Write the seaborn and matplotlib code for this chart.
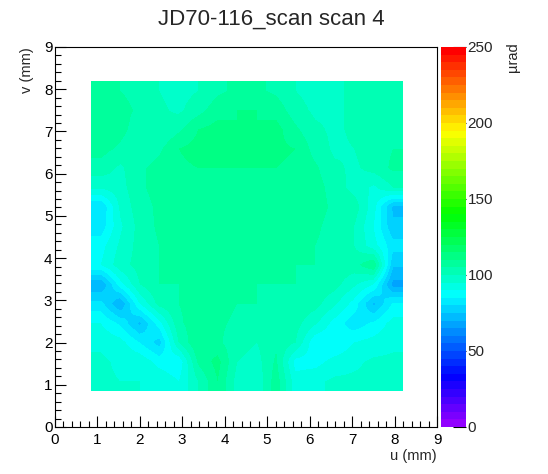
import numpy as np
import matplotlib
matplotlib.use("Agg")
import matplotlib.pyplot as plt
from matplotlib.colors import ListedColormap, Normalize, hsv_to_rgb
from matplotlib.ticker import MultipleLocator
import seaborn as sns

title = "JD70-116_scan scan 4"
u_label = "u (mm)"
v_label = "v (mm)"
z_label = "µrad"

# scanned area (mm) and colour scale range (µrad)
u_range = (0.85, 8.17)
v_range = (0.85, 8.17)
z_range = (0, 250)
z_ticks = [0, 50, 100, 150, 200, 250]

# deflection, 16 cells per row, u = 1.1 ... 7.9 mm
# rows go from the top of the scan (v ~ 7.9) down to the bottom (v ~ 1.1)
row_v79 = [106, 105, 103, 100, 98, 100, 104, 106, 106, 104, 100, 98, 99, 101, 102, 103]
row_v75 = [108, 107, 104, 101, 99, 103, 108, 110, 110, 108, 102, 99, 99, 101, 102, 104]
row_v70 = [108, 107, 102, 100, 104, 110, 112, 110, 110, 112, 106, 101, 99, 101, 103, 104]
row_v66 = [107, 104, 100, 104, 110, 112, 111, 110, 110, 111, 110, 103, 99, 100, 103, 105]
row_v61 = [103, 99, 104, 107, 109, 110, 110, 110, 110, 110, 109, 106, 101, 99, 102, 106]
row_v57 = [96, 98, 104, 107, 108, 109, 109, 109, 109, 109, 108, 107, 103, 98, 94, 100]
row_v52 = [80, 96, 103, 106, 107, 108, 108, 108, 108, 108, 107, 107, 104, 103, 92, 74]
row_v47 = [82, 94, 102, 106, 106, 107, 107, 107, 107, 107, 107, 106, 103, 100, 90, 76]
row_v43 = [88, 96, 102, 105, 106, 106, 106, 106, 106, 106, 106, 105, 103, 100, 92, 82]
row_v38 = [90, 98, 102, 105, 106, 106, 106, 106, 105, 105, 105, 105, 103, 103, 110, 76]
row_v34 = [70, 88, 100, 105, 105, 106, 106, 105, 105, 105, 105, 104, 102, 96, 90, 68]
row_v29 = [82, 70, 90, 102, 105, 107, 107, 105, 105, 104, 104, 102, 96, 88, 74, 86]
row_v25 = [90, 84, 74, 88, 104, 108, 106, 104, 104, 104, 102, 96, 88, 82, 86, 92]
row_v20 = [94, 92, 85, 78, 100, 110, 106, 102, 100, 104, 100, 86, 85, 90, 92, 94]
row_v15 = [96, 94, 94, 88, 86, 106, 112, 100, 98, 106, 88, 88, 92, 94, 96, 96]
row_v11 = [96, 95, 95, 94, 90, 100, 110, 98, 96, 108, 92, 94, 96, 96, 96, 96]

deflection = np.array([row_v79, row_v75, row_v70, row_v66, row_v61, row_v57,
                       row_v52, row_v47, row_v43, row_v38, row_v34, row_v29,
                       row_v25, row_v20, row_v15, row_v11], dtype=float)

# ROOT "pretty" palette: 50 hues from violet down to red
n_col = 50
hues = (280 - (np.arange(n_col) + 1) * 280 / n_col) / 360
palette = ListedColormap(hsv_to_rgb(np.column_stack([hues, np.ones(n_col), np.ones(n_col)])))

sns.set_theme(style="ticks")
plt.rcParams["font.family"] = ["Liberation Sans", "DejaVu Sans"]

W, H = 548, 474
fig = plt.figure(figsize=(W / 100, H / 100), dpi=100)
ax = fig.add_axes([54.5 / W, 47 / H, 382.5 / W, 380 / H])
cax = fig.add_axes([441 / W, 47 / H, 24.5 / W, 380 / H])

im = ax.imshow(deflection, cmap=palette, norm=Normalize(*z_range),
               extent=[u_range[0], u_range[1], v_range[0], v_range[1]],
               origin="upper", aspect="auto",
               interpolation="bilinear", interpolation_stage="data")

ax.set_xlim(0, 9)
ax.set_ylim(0, 9)
ax.xaxis.set_major_locator(MultipleLocator(1))
ax.yaxis.set_major_locator(MultipleLocator(1))
ax.xaxis.set_minor_locator(MultipleLocator(0.2))
ax.yaxis.set_minor_locator(MultipleLocator(0.2))
ax.tick_params(which="both", direction="in", top=False, right=False,
               width=0.8, color="black", labelsize=11, labelcolor="black")
ax.tick_params(which="major", length=8)
ax.tick_params(which="minor", length=4.3)
ax.tick_params(axis="x", pad=4)
ax.tick_params(axis="y", pad=1.5)
for sp in ax.spines.values():
    sp.set_linewidth(0.8)
    sp.set_color("black")

ax.set_xlabel(u_label, loc="right", fontsize=10.5)
ax.xaxis.set_label_coords(1.0, -0.058)
ax.set_ylabel(v_label, loc="top", fontsize=10.5)
ax.yaxis.set_label_coords(-0.054, 1.0)

cbar = fig.colorbar(im, cax=cax, ticks=z_ticks)
cbar.outline.set_visible(False)
cax.tick_params(direction="in", length=9.5, width=0.8, color="black",
                labelsize=11, pad=1.5)

fig.text(513 / W, 1 - 42 / H, z_label, rotation=90, ha="center", va="top", fontsize=10.5)
fig.text(271 / W, 1 - 24.5 / H, title, ha="center", va="baseline", fontsize=16)

fig.savefig("out.png", dpi=100)
